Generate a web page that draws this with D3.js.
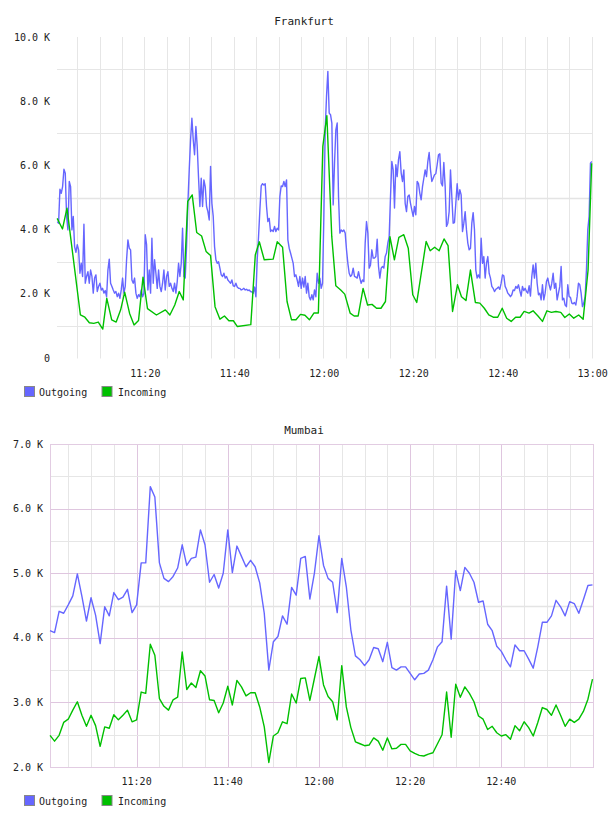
<!DOCTYPE html>
<html>
<head>
<meta charset="utf-8">
<script src="https://cdn.jsdelivr.net/npm/d3@7"></script>
<style>
body { margin: 0; background: #fff; }
text { font-family: "DejaVu Sans Mono", monospace; }
</style>
</head>
<body>
<div id="draw"></div>
<script>

var seriesNames = ['Outgoing', 'Incoming'];
var seriesColors = ['#6666ff', '#00c000'];

// Frankfurt, values in K, times in minutes after 11:00
var fraOutStart = 0.53;
var fraOutStep = 0.298; // ~18 s between samples
var fraOut = [
4.25,4.20,5.26,5.13,5.34,5.88,5.76,4.41,3.99,5.50,
5.34,3.99,4.41,3.47,3.29,3.53,3.37,2.64,2.95,2.54,
4.17,2.33,2.54,2.69,2.33,2.74,2.54,2.02,2.49,2.59,
2.07,2.23,2.33,2.12,2.17,2.02,2.10,1.91,2.74,3.08,
2.33,2.23,2.12,2.02,2.07,1.91,2.02,1.86,2.12,2.49,
2.02,2.23,3.06,3.68,3.42,3.37,2.43,2.33,2.49,2.02,
1.86,1.97,1.91,2.12,1.91,2.02,3.84,3.53,2.12,2.74,
2.02,3.73,2.33,3.06,2.64,2.17,2.74,2.23,2.07,2.33,
2.74,2.12,2.54,2.69,2.23,2.33,2.17,2.07,2.33,2.02,
2.38,2.95,2.54,2.95,4.04,2.54,2.49,3.47,4.82,5.86,
6.80,7.47,6.80,6.33,7.21,6.59,5.60,4.72,5.60,4.72,
5.55,5.34,4.72,4.56,4.30,5.97,4.82,4.41,3.47,3.06,
2.95,3.00,2.80,2.59,2.54,2.64,2.49,2.54,2.43,2.38,
2.33,2.43,2.25,2.23,2.33,2.21,2.17,2.17,2.12,2.14,
2.17,2.12,2.14,2.10,2.12,2.07,2.06,2.02,2.21,1.91,
3.06,3.78,4.61,5.36,5.43,5.39,5.43,4.72,4.25,4.35,
3.94,3.99,3.94,4.10,3.94,4.04,3.99,5.03,5.36,5.34,
5.50,5.34,5.55,3.68,3.42,3.27,3.11,2.95,2.54,2.59,
2.43,2.23,2.54,2.17,2.49,2.21,2.54,2.02,2.33,1.91,
1.81,1.97,1.81,2.12,1.91,2.64,2.33,2.49,2.17,2.33,
4.41,7.11,8.15,8.93,7.63,7.58,7.32,4.77,6.07,7.11,
7.32,5.03,3.89,3.99,3.94,3.99,3.89,3.37,2.95,2.64,
2.54,2.59,2.80,2.54,2.52,2.49,2.69,2.49,2.33,2.43,
2.38,3.58,4.25,3.89,2.80,2.90,3.37,3.11,3.11,3.16,
3.70,2.85,2.49,2.80,2.85,2.80,3.16,3.27,3.58,3.78,
5.03,6.12,5.86,4.67,6.02,5.65,6.18,6.43,5.76,5.50,
5.86,4.82,4.56,5.03,5.08,4.82,4.61,4.41,4.72,4.46,
5.50,5.43,5.13,4.93,5.34,5.60,5.86,5.65,6.12,6.40,
5.86,5.50,5.60,5.71,5.74,6.02,6.33,6.36,5.45,5.36,
6.09,5.34,4.10,4.20,4.56,5.86,5.03,4.20,4.22,4.82,
5.43,4.93,5.24,5.08,3.94,4.20,4.56,3.99,3.58,3.37,
3.42,4.20,4.53,3.99,2.74,2.49,2.59,2.49,3.73,2.95,
3.16,2.49,2.95,3.16,2.64,2.49,2.23,2.17,2.07,2.14,
2.17,2.21,2.14,2.33,2.59,2.56,2.23,2.14,2.02,1.97,
1.91,1.97,2.12,2.10,2.23,2.17,2.28,2.10,1.93,2.23,
2.10,2.17,2.07,2.02,2.25,1.93,2.54,2.90,2.49,2.95,
2.33,1.97,2.02,1.81,2.28,1.81,2.02,2.38,2.49,2.28,
2.12,2.33,2.64,2.17,2.33,1.81,2.02,2.23,2.85,1.81,
1.86,1.65,1.60,2.28,1.91,1.89,1.71,1.69,1.73,1.65,
1.91,2.33,2.28,2.02,1.60,1.71,1.91,2.74,3.99,4.41,
6.07,6.12
];
var fraInTimes = [
0.5,1.7,2.7,5.7,6.7,7.7,8.7,9.7,10.7,11.6,
12.7,13.7,14.7,15.6,16.7,17.7,18.7,19.7,20.7,22.7,
24.7,25.7,26.8,27.8,28.7,29.7,30.7,31.7,32.8,33.8,
34.8,35.8,36.9,37.9,38.9,39.9,40.8,43.8,44.8,45.7,
46.8,48.8,49.7,50.9,51.9,52.9,53.9,54.9,55.9,56.9,
57.9,58.9,59.9,60.8,61.9,62.8,63.9,64.8,66.0,66.9,
67.8,68.9,69.9,70.9,71.9,72.9,73.9,74.9,75.9,76.9,
78.0,79.0,80.0,80.9,83.0,83.9,84.9,85.9,87.0,87.9,
88.9,90.0,90.9,91.9,92.9,94.0,95.0,96.0,97.0,98.0,
99.0,100.0,101.0,102.0,103.0,104.0,104.9,106.0,106.9,108.0,
109.0,110.0,111.0,112.0,113.1,114.0,115.0,116.0,117.1,118.1,
119.2,120.0
];
var fraIn = [
4.35,4.02,4.67,1.34,1.27,1.10,1.08,1.12,0.90,1.86,
1.19,1.12,1.50,2.05,1.39,1.03,1.17,2.52,1.54,1.34,
1.50,1.34,1.65,2.07,1.81,4.88,5.08,3.91,3.80,3.32,
3.19,1.60,1.21,1.31,1.16,1.16,0.98,1.04,3.21,3.62,
3.06,3.08,3.62,3.45,1.76,1.19,1.19,1.36,1.33,1.19,
1.40,1.40,6.59,7.55,3.78,2.25,2.12,1.99,1.40,1.31,
1.31,2.17,1.65,1.67,1.55,1.55,1.76,3.78,3.06,3.76,
3.84,3.42,1.97,1.73,3.63,3.34,3.45,3.34,3.71,3.50,
1.45,2.28,1.91,1.79,2.74,1.73,1.71,1.55,1.34,1.27,
1.27,1.55,1.24,1.14,1.27,1.27,1.45,1.40,1.47,1.31,
1.14,1.47,1.42,1.45,1.42,1.26,1.37,1.24,1.34,1.21,
2.74,6.07
];
var fraYTicks = [0, 2, 4, 6, 8, 10];
var fraXTicks = ['11:20', '11:40', '12:00', '12:20', '12:40', '13:00'];

// Mumbai, one sample a minute from 11:01
var mumStart = 1;
var mumStep = 1;
var mumOut = [
4.11,4.08,4.41,4.38,4.51,4.65,4.99,4.64,4.26,4.62,
4.35,3.91,4.48,4.34,4.70,4.59,4.63,4.75,4.39,4.51,
5.16,5.16,6.34,6.18,5.16,4.92,4.87,4.95,5.08,5.44,
5.12,5.23,5.25,5.67,5.44,4.86,4.98,4.77,5.00,5.67,
5.01,5.42,5.26,5.10,5.20,5.10,4.85,4.38,3.50,3.94,
4.02,4.34,4.21,4.78,4.66,5.23,5.26,4.60,5.00,5.58,
5.12,4.92,4.86,4.39,5.23,4.79,4.12,3.72,3.66,3.57,
3.66,3.85,3.83,3.63,3.93,3.54,3.50,3.55,3.55,3.45,
3.35,3.44,3.45,3.50,3.66,3.86,3.94,4.80,3.98,5.04,
4.73,5.09,5.00,4.86,4.55,4.57,4.21,4.11,3.87,3.79,
3.66,3.55,3.89,3.80,3.80,3.67,3.53,3.86,4.24,4.24,
4.34,4.58,4.48,4.34,4.56,4.53,4.38,4.59,4.81,4.82
];
var mumIn = [
2.49,2.40,2.49,2.69,2.74,2.88,3.01,2.80,2.63,2.80,
2.64,2.32,2.62,2.60,2.81,2.73,2.80,2.88,2.70,2.73,
3.16,3.14,3.90,3.73,3.06,2.94,2.88,3.04,3.08,3.78,
3.20,3.30,3.23,3.49,3.41,3.04,3.03,2.84,2.99,3.25,
2.96,3.34,3.24,3.10,3.15,3.15,2.93,2.62,2.07,2.48,
2.53,2.70,2.67,3.13,2.99,3.37,3.38,3.03,3.37,3.71,
3.27,3.09,3.01,2.73,3.57,2.93,2.61,2.39,2.36,2.33,
2.34,2.45,2.40,2.26,2.45,2.28,2.29,2.35,2.35,2.25,
2.21,2.18,2.17,2.20,2.22,2.36,2.50,3.16,2.46,3.28,
3.08,3.24,3.14,3.01,2.79,2.74,2.58,2.63,2.53,2.48,
2.50,2.43,2.64,2.56,2.70,2.61,2.48,2.69,2.92,2.89,
2.80,2.96,2.80,2.63,2.74,2.69,2.74,2.86,3.05,3.36
];
var mumYTicks = [2, 3, 4, 5, 6, 7];
var mumXTicks = ['11:20', '11:40', '12:00', '12:20', '12:40'];

var base = new Date(2020, 0, 1, 11, 0, 0).getTime();
function tm(m) { return new Date(base + m * 60000); }
function hm(s) { var p = s.split(':'); return tm((+p[0] - 11) * 60 + (+p[1])); }

var svg = d3.select('#draw').append('svg').attr('width', 608).attr('height', 816);

function drawPanel(p) {
  var x = d3.scaleTime().domain([tm(p.t0), tm(p.t1)]).range([p.left, p.right]);
  var y = d3.scaleLinear().domain([p.yMin, p.yMax]).range([p.bottom, p.top]);
  var g = svg.append('g');

  g.append('text')
    .attr('x', 304)
    .attr('y', p.titleY)
    .attr('text-anchor', 'middle')
    .attr('font-size', 11)
    .attr('fill', '#222')
    .text(p.title);

  // vertical grid, every 5 minutes
  var vts = d3.timeMinute.every(5).range(tm(p.g0), tm(p.g1 + 0.01));
  vts.forEach(function(t) {
    var major = p.pink && t.getMinutes() % 20 === 0;
    g.append('line')
      .attr('x1', Math.round(x(t)) + 0.5).attr('x2', Math.round(x(t)) + 0.5)
      .attr('y1', p.top).attr('y2', p.bottom + 0.5)
      .attr('stroke', major ? '#dfc6df' : '#e6e6e6')
      .attr('stroke-width', 1);
  });

  // horizontal grid
  p.hGrid.forEach(function(v) {
    var major = p.pink && v % 1 === 0;
    var mid = v === p.hMid;
    g.append('line')
      .attr('x1', p.left).attr('x2', p.right)
      .attr('y1', Math.round(y(v)) + 0.5).attr('y2', Math.round(y(v)) + 0.5)
      .attr('stroke', major ? '#dfc6df' : (mid ? '#e4e4e4' : '#e6e6e6'))
      .attr('stroke-width', mid ? 1.4 : 1);
  });

  if(p.pink) {
    g.append('rect')
      .attr('x', p.left + 0.5).attr('y', p.top + 0.5)
      .attr('width', p.right - p.left - 1).attr('height', p.bottom - p.top)
      .attr('fill', 'none')
      .attr('stroke', '#e2cce2')
      .attr('stroke-width', 1);
  }

  // y labels
  p.yTicks.forEach(function(v) {
    g.append('text')
      .attr('x', p.left - 7)
      .attr('y', y(v) + 3.5)
      .attr('text-anchor', 'end')
      .attr('font-size', 10)
      .attr('fill', '#222')
      .text(v === 0 ? '0' : v.toFixed(1) + ' K');
  });

  // x labels
  p.xTicks.forEach(function(s) {
    g.append('text')
      .attr('x', x(hm(s)) + p.xShift)
      .attr('y', p.xLabelY)
      .attr('text-anchor', 'middle')
      .attr('font-size', 10)
      .attr('fill', '#222')
      .text(s);
  });

  // series
  var line = d3.line()
    .x(function(d) { return x(tm(d[0])); })
    .y(function(d) { return y(d[1]); });
  p.series.forEach(function(s, i) {
    g.append('path')
      .datum(s)
      .attr('d', line)
      .attr('fill', 'none')
      .attr('stroke', seriesColors[i])
      .attr('stroke-width', 1.4)
      .attr('stroke-linejoin', 'round');
  });

  // legend
  var lx = [24, 101.5];
  var tx = [39, 118];
  seriesNames.forEach(function(name, i) {
    g.append('rect')
      .attr('x', lx[i] + 0.5).attr('y', p.legendY + 0.5)
      .attr('width', 10).attr('height', 10)
      .attr('fill', seriesColors[i])
      .attr('stroke', '#888')
      .attr('stroke-width', 1);
    g.append('text')
      .attr('x', tx[i])
      .attr('y', p.legendY + 9.5)
      .attr('font-size', 10)
      .attr('fill', '#222')
      .text(name);
  });
}

var fraOutPts = fraOut.map(function(v, i) { return [fraOutStart + i * fraOutStep, v]; });
var fraInPts = fraIn.map(function(v, i) { return [fraInTimes[i], v]; });
var mumOutPts = mumOut.map(function(v, i) { return [mumStart + i * mumStep, v]; });
var mumInPts = mumIn.map(function(v, i) { return [mumStart + i * mumStep, v]; });

drawPanel({
  title: 'Frankfurt', titleY: 24.5,
  left: 57, right: 593, top: 37, bottom: 358,
  t0: 0.47, t1: 120.3, g0: 5, g1: 120,
  yMin: 0, yMax: 10, yTicks: fraYTicks, hGrid: [1, 3, 5, 7, 9], hMid: 5,
  xTicks: fraXTicks, xLabelY: 377, xShift: 1,
  series: [fraOutPts, fraInPts],
  legendY: 386, pink: false
});

drawPanel({
  title: 'Mumbai', titleY: 433.5,
  left: 50, right: 594, top: 444, bottom: 767,
  t0: 1, t1: 120.33, g0: 5, g1: 115,
  yMin: 2, yMax: 7, yTicks: mumYTicks,
  hGrid: [2.5, 3, 3.5, 4, 4.5, 5, 5.5, 6, 6.5], hMid: 4.5,
  xTicks: mumXTicks, xLabelY: 784.5, xShift: 0,
  series: [mumOutPts, mumInPts],
  legendY: 795, pink: true
});

</script>
</body>
</html>
